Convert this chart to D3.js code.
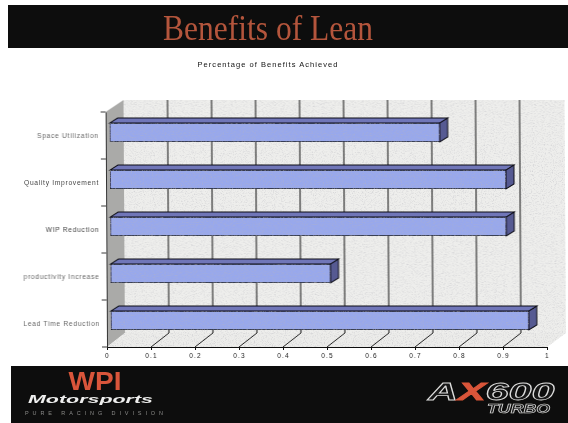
<!DOCTYPE html>
<html>
<head>
<meta charset="utf-8">
<script src="https://cdnjs.cloudflare.com/ajax/libs/d3/7.8.5/d3.min.js"></script>
<style>
html, body { margin: 0; padding: 0; background: #fff; }
svg { display: block; }
</style>
</head>
<body>
<div id="chart-area"></div>
<script>
var categories = ["Space Utilization", "Quality Improvement", "WIP Reduction", "productivity Increase", "Lead Time Reduction"];
var values = [0.75, 0.9, 0.9, 0.5, 0.95];
var tickValues = [0, 0.1, 0.2, 0.3, 0.4, 0.5, 0.6, 0.7, 0.8, 0.9, 1];
var labelColors = ["#666", "#444", "#444", "#666", "#666"];

var svg = d3.select("#chart-area").append("svg")
    .attr("width", 568)
    .attr("height", 423);

// speckle of the scanned page
var defs = svg.append("defs");
var grain = defs.append("filter").attr("id", "grain")
    .attr("x", 0).attr("y", 0).attr("width", 1).attr("height", 1);
grain.append("feTurbulence")
    .attr("type", "fractalNoise").attr("baseFrequency", 0.9)
    .attr("numOctaves", 2).attr("seed", 4).attr("result", "n");
grain.append("feColorMatrix").attr("in", "n").attr("type", "matrix")
    .attr("values", "0 0 0 0 0.45  0 0 0 0 0.45  0 0 0 0 0.5  1.3 0 0 0 -0.62")
    .attr("result", "s");
grain.append("feComposite").attr("in", "s").attr("in2", "SourceAlpha").attr("operator", "in").attr("result", "c");
var gm = grain.append("feMerge");
gm.append("feMergeNode").attr("in", "SourceGraphic");
gm.append("feMergeNode").attr("in", "c");
defs.append("filter").attr("id", "soft").append("feGaussianBlur").attr("stdDeviation", 0.35);

var page = svg.append("g").attr("filter", "url(#soft)");

// top banner
page.append("rect")
    .attr("x", 8).attr("y", 5).attr("width", 560).attr("height", 43)
    .attr("fill", "#0e0e0c");
page.append("text")
    .attr("transform", "translate(268,40) scale(0.9,1)")
    .attr("text-anchor", "middle")
    .attr("font-family", "Liberation Serif")
    .attr("font-size", 35)
    .attr("fill", "#b4553c")
    .text("Benefits of Lean");
page.append("text")
    .attr("x", 268).attr("y", 67)
    .attr("text-anchor", "middle")
    .attr("font-family", "Liberation Sans")
    .attr("font-size", 7.5)
    .attr("letter-spacing", 1.05)
    .attr("fill", "#111")
    .text("Percentage of Benefits Achieved");

// the scan is a little crooked
var chart = page.append("g").attr("transform", "matrix(1,0,0.006,1,-2.08,0)");

var x = d3.scaleLinear().domain([0, 1]).range([107, 547]);
var y = d3.scaleBand().domain(categories).range([112, 347])
    .paddingInner(0.6).paddingOuter(0.3);

var depthX = 18, depthY = -14;
var barDx = 4, barDy = -3, barDepthX = 8, barDepthY = -5;
var plotTop = y.range()[0], plotBottom = y.range()[1];

function pts(a) { return a.map(function(p) { return p.join(","); }).join(" "); }

// back wall, side wall, floor
chart.append("polygon")
    .attr("points", pts([[x(0) + depthX, plotTop - 12], [566, plotTop - 12], [566, plotBottom + depthY], [x(0) + depthX, plotBottom + depthY]]))
    .attr("fill", "#eeeeec")
    .attr("filter", "url(#grain)");
chart.append("polygon")
    .attr("points", pts([[x(0), plotTop], [x(0) + depthX, plotTop - 12], [x(0) + depthX, plotBottom + depthY], [x(0), plotBottom]]))
    .attr("fill", "#aaaaa8");
chart.append("polygon")
    .attr("points", pts([[x(0), plotBottom], [x(0) + depthX, plotBottom + depthY], [566, plotBottom + depthY], [x(1), plotBottom]]))
    .attr("fill", "#ececea")
    .attr("filter", "url(#grain)");

// gridlines on wall and floor
chart.selectAll(".grid").data(tickValues.slice(1, -1))
    .enter().append("line")
    .attr("class", "grid")
    .attr("x1", function(d) { return x(d) + depthX; })
    .attr("x2", function(d) { return x(d) + depthX; })
    .attr("y1", plotTop - 12)
    .attr("y2", plotBottom + depthY)
    .attr("stroke", "#111")
    .attr("stroke-width", 1);
chart.selectAll(".floorline").data(tickValues.slice(1, -1))
    .enter().append("line")
    .attr("class", "floorline")
    .attr("x1", function(d) { return x(d) + depthX; })
    .attr("x2", function(d) { return x(d); })
    .attr("y1", plotBottom + depthY)
    .attr("y2", plotBottom)
    .attr("stroke", "#111")
    .attr("stroke-width", 0.9);

// axes
var xAxis = d3.axisBottom(x).tickValues(tickValues).tickFormat(function(d) { return d; })
    .tickSize(3).tickSizeOuter(0).tickPadding(3);
var xg = chart.append("g").attr("transform", "translate(0," + plotBottom + ")").call(xAxis);
xg.selectAll("text")
    .attr("font-family", "Liberation Sans")
    .attr("font-size", 6.5)
    .attr("letter-spacing", 1.2)
    .attr("fill", "#222");
xg.selectAll("line, path").attr("stroke", "#111").attr("stroke-width", 1);

var yAxis = d3.axisLeft(y).tickSize(0).tickPadding(7);
var yg = chart.append("g").attr("transform", "translate(" + x(0) + ",0)").call(yAxis);
yg.selectAll("text")
    .attr("font-family", "Liberation Sans")
    .attr("font-size", 6.7)
    .attr("letter-spacing", 0.7)
    .attr("fill", function(d, i) { return labelColors[i]; });
yg.select("path").attr("stroke", "#333").attr("stroke-width", 1);

// left ticks sit between the categories
chart.selectAll(".ytick").data(d3.range(categories.length + 1))
    .enter().append("line")
    .attr("class", "ytick")
    .attr("x1", x(0) - 5)
    .attr("x2", x(0))
    .attr("y1", function(i) { return plotTop + i * y.step(); })
    .attr("y2", function(i) { return plotTop + i * y.step(); })
    .attr("stroke", "#222")
    .attr("stroke-width", 0.9);

// bars
var bars = chart.selectAll(".bar").data(categories)
    .enter().append("g")
    .attr("class", "bar");

function valueOf(i) { return values[i]; }

bars.append("polygon")
    .attr("points", function(d, i) {
        var x0 = x(0) + barDx, x1 = x(valueOf(i)) + barDx, y0 = y(d) + barDy;
        return pts([[x0, y0], [x0 + barDepthX, y0 + barDepthY], [x1 + barDepthX, y0 + barDepthY], [x1, y0]]);
    })
    .attr("fill", "#6f76b8")
    .attr("stroke", "#0d0d14")
    .attr("stroke-width", 1);
bars.append("polygon")
    .attr("points", function(d, i) {
        var x1 = x(valueOf(i)) + barDx, y0 = y(d) + barDy, y1 = y0 + y.bandwidth();
        return pts([[x1, y0], [x1 + barDepthX, y0 + barDepthY], [x1 + barDepthX, y1 + barDepthY], [x1, y1]]);
    })
    .attr("fill", "#565a92")
    .attr("stroke", "#0d0d14")
    .attr("stroke-width", 1);
bars.append("rect")
    .attr("x", x(0) + barDx)
    .attr("y", function(d) { return y(d) + barDy; })
    .attr("width", function(d, i) { return x(valueOf(i)) - x(0); })
    .attr("height", y.bandwidth())
    .attr("fill", "#98a8ec")
    .attr("stroke", "#0d0d14")
    .attr("stroke-width", 1.2)
    .attr("filter", "url(#grain)");

// bottom banner and logos
page.append("rect")
    .attr("x", 11).attr("y", 366).attr("width", 557).attr("height", 57)
    .attr("fill", "#0e0e0c");
page.append("text")
    .attr("transform", "translate(95,390) scale(1.12,1)")
    .attr("text-anchor", "middle")
    .attr("font-family", "Liberation Sans")
    .attr("font-weight", "bold")
    .attr("font-size", 25)
    .attr("fill", "#d9553a")
    .text("WPI");
page.append("text")
    .attr("transform", "translate(28,403) scale(1.95,1)")
    .attr("font-family", "Liberation Sans")
    .attr("font-style", "italic")
    .attr("font-weight", "bold")
    .attr("font-size", 11)
    .attr("fill", "#eee")
    .text("Motorsports");
page.append("text")
    .attr("x", 25).attr("y", 415)
    .attr("font-family", "Liberation Sans")
    .attr("font-size", 5.5)
    .attr("letter-spacing", 3.9)
    .attr("fill", "#888")
    .text("PURE RACING DIVISION");
var ax = page.append("text")
    .attr("transform", "translate(428,400) scale(1.8,1)")
    .attr("font-family", "Liberation Sans")
    .attr("font-style", "italic")
    .attr("font-weight", "bold")
    .attr("font-size", 23)
    .attr("fill", "#151515")
    .attr("stroke", "#ddd")
    .attr("stroke-width", 0.8);
ax.append("tspan").text("A");
ax.append("tspan").attr("fill", "#d9553a").attr("stroke", "#d9553a").text("X");
ax.append("tspan").text("600");
page.append("text")
    .attr("transform", "translate(487,413) scale(1.42,1)")
    .attr("font-family", "Liberation Sans")
    .attr("font-style", "italic")
    .attr("font-weight", "bold")
    .attr("font-size", 12.5)
    .attr("fill", "#222")
    .attr("stroke", "#ddd")
    .attr("stroke-width", 0.6)
    .text("TURBO");
</script>
</body>
</html>
